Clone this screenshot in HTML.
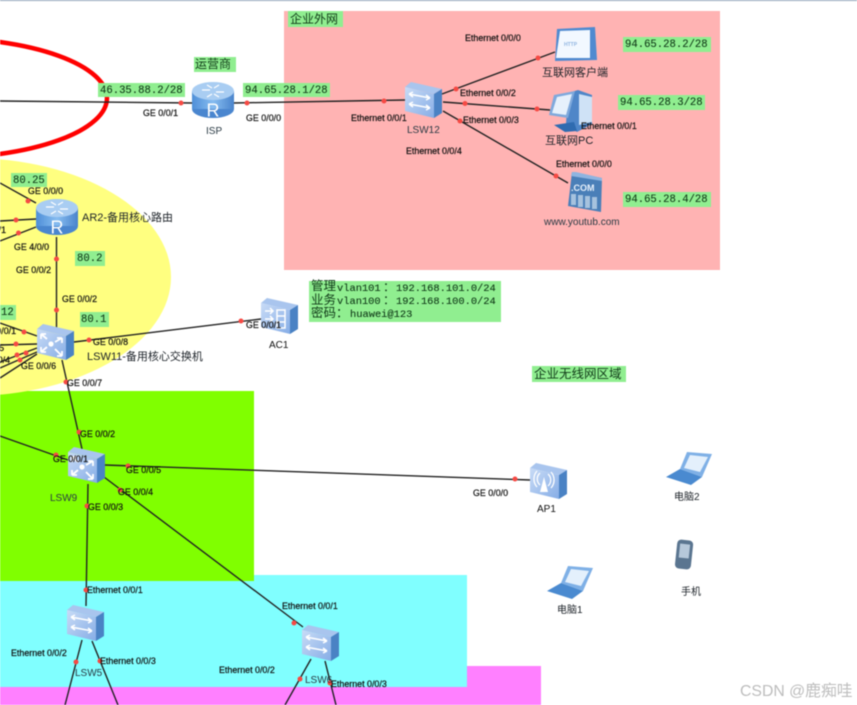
<!DOCTYPE html>
<html><head><meta charset="utf-8"><style>
html,body{margin:0;padding:0;background:#fff;width:857px;height:705px;overflow:hidden}
svg{display:block;filter:blur(.4px)}
text{font-family:"Liberation Sans","Noto Sans CJK SC",sans-serif;fill:#111}
.p{font-size:8.9px;stroke:#111;stroke-width:.2px}
.n{font-size:10px;fill:#2a3a44}
.c{font-size:11px;fill:#1c2228}
.m{font-family:"Liberation Mono","Noto Sans CJK SC",monospace;font-size:10.6px;fill:#103a18;stroke:#103a18;stroke-width:.1px}
.i{font-size:10.4px}
.z{fill:#103a18}
.g{fill:#90ee90}
.l line{stroke:#222;stroke-width:1.4}
.d circle{fill:#f64a44;r:2.5px}
</style></head><body>
<svg width="857" height="705" viewBox="0 0 857 705" xmlns="http://www.w3.org/2000/svg">
<defs>
<linearGradient id="fr" x1="0" y1="0" x2="1" y2="1"><stop offset="0" stop-color="#c8dbf6"/><stop offset="1" stop-color="#86ade6"/></linearGradient>
<linearGradient id="cy" x1="0" y1="0" x2="1" y2="0"><stop offset="0" stop-color="#4f8fd8"/><stop offset=".5" stop-color="#86bcf0"/><stop offset="1" stop-color="#4a84cc"/></linearGradient>
<g id="box"><polygon points="0,5 6,0 37,7 29,12" fill="#a9c5ee"/><polygon points="29,12 37,7 37,31 29,36" fill="#4a82c4"/><polygon points="0,5 29,12 29,36 0,29" fill="url(#fr)"/></g>
<g id="sw"><use href="#box"/><g stroke="#fff" stroke-width="1.5" fill="none"><path d="M4,12 L25,16 M4,12 l4,-2 M4,12 l4,3 M25,16 l-4,-3 M25,16 l-4,2"/><path d="M4,22 L25,26 M25,26 l-4,-3 M25,26 l-4,2 M4,22 l4,-2 M4,22 l4,3"/></g></g>
<g id="core"><use href="#box"/><g stroke="#fff" stroke-width="1.8" fill="none"><path d="M4,10 L10,15 M4,10 h5 M4,10 v5"/><path d="M25,14 L18,18 M25,14 h-5 M25,14 v5"/><path d="M10,23 L4,28 M4,28 h5 M4,28 v-5"/><path d="M18,25 L25,32 M25,32 h-5 M25,32 v-5"/></g><circle cx="14" cy="20" r="2.6" fill="#fff"/></g>
<g id="ac"><use href="#box"/><g stroke="#fff" stroke-width="1.5" fill="none"><path d="M4,13 h8 M9,10 l3,3 -3,3 M4,21 h8 M9,18 l3,3 -3,3"/><rect x="16" y="12" width="8" height="18"/><path d="M16,18 h8 M16,24 h8"/></g></g>
<g id="ap"><use href="#box"/><g stroke="#fff" stroke-width="1.3" fill="none"><path d="M10,10 a8,8 0 0 0 0,12 M18,11 a8,8 0 0 1 0,12 M7,8 a12,12 0 0 0 0,16 M21,9 a12,12 0 0 1 0,16"/></g><path d="M14,14 l-4,15 h8z" fill="#fff"/></g>
<g id="r"><ellipse cx="21" cy="27" rx="21" ry="9" fill="#4a86cf"/><rect x="0" y="9" width="42" height="18" fill="url(#cy)"/><ellipse cx="21" cy="9" rx="21" ry="9" fill="#a9cdf2"/><g stroke="#fff" stroke-width="1.2" fill="none"><path d="M10,8 h8 M32,10 h-8 M15,3 l5,3 M27,15 l-5,-3 M27,3 l-5,3 M15,15 l5,-3"/></g><text x="21" y="34.5" text-anchor="middle" style="font-size:18px;fill:#fff">R</text></g>
<g id="lap"><polygon points="14,17 21,0 46,2 36,25" fill="#7fb0e6"/><polygon points="18,16 24,3 42,5 34,20" fill="#e4f0fc"/><polygon points="0,25 14,17 36,25 25,33" fill="#4a8ad0"/></g>
</defs>

<rect x="0" y="0" width="857" height="705" fill="#fff"/>
<rect x="0" y="0" width="857" height="1" fill="#8fa3b8"/>
<rect x="0" y="666" width="541" height="39" fill="#ff80ff"/>
<rect x="0" y="575" width="467" height="112" fill="#80ffff"/>
<rect x="0" y="391" width="254" height="190" fill="#80ff00"/>
<rect x="284" y="11" width="436" height="259" fill="#ffb3b3"/>
<ellipse cx="-30" cy="277" rx="201" ry="119" fill="#ffff80"/>
<ellipse cx="-60" cy="98" rx="167" ry="60" fill="none" stroke="#f00" stroke-width="4.5"/>

<g class="l">
<line x1="0" y1="101" x2="193" y2="103"/><line x1="233" y1="103" x2="405" y2="100"/>
<line x1="442" y1="94" x2="555" y2="52"/><line x1="443" y1="102" x2="550" y2="110"/><line x1="443" y1="111" x2="568" y2="183"/>
<line x1="0" y1="183" x2="36" y2="203"/><line x1="0" y1="221" x2="36" y2="219"/><line x1="0" y1="241" x2="36" y2="227"/>
<line x1="56.5" y1="237" x2="56.5" y2="328"/>
<line x1="0" y1="323" x2="37" y2="336"/><line x1="0" y1="345" x2="37" y2="344"/><line x1="0" y1="362" x2="37" y2="348"/><line x1="0" y1="368" x2="37" y2="352"/><line x1="0" y1="378" x2="37" y2="354"/>
<line x1="74" y1="342" x2="261" y2="319"/><line x1="62" y1="360" x2="82" y2="449"/>
<line x1="0" y1="436" x2="68" y2="460"/><line x1="105" y1="465" x2="530" y2="480"/>
<line x1="88" y1="484" x2="86" y2="606"/><line x1="104" y1="477" x2="303" y2="627"/>
<line x1="82" y1="640" x2="65" y2="705"/><line x1="92" y1="641" x2="118" y2="705"/>
<line x1="311" y1="659" x2="285" y2="705"/><line x1="325" y1="661" x2="336" y2="705"/>
</g>

<use href="#r" x="192" y="82"/>
<use href="#r" x="36" y="199"/>
<use href="#sw" x="405" y="82"/>
<use href="#core" x="37" y="324"/>
<use href="#core" x="68" y="447"/>
<use href="#sw" x="67" y="605"/>
<use href="#sw" x="302" y="625"/>
<use href="#ac" x="261" y="298"/>
<use href="#ap" x="530" y="463"/>

<!-- HTTP -->
<polygon points="557,29 595,27 597,60 555,61" fill="#4f8ad0"/><polygon points="560,31 590,30 590,58 556,58" fill="#f2f8ff"/>
<text x="564" y="46" style="font-size:5px;font-weight:bold;fill:#8fb4e0">HTTP</text>
<!-- PC -->
<polygon points="568,93 578,90 592,95 592,124 577,132 566,124" fill="#4f86c8"/><polygon points="579,94 592,97 592,122 579,125" fill="#cfe2f6"/>
<polygon points="554,95 575,91 568,118 549,115" fill="#7fa9dc"/><polygon points="557,97 572,94 566,115 552,113" fill="#e6f1fc"/>
<polygon points="554,125 574,122 577,131 565,132" fill="#2f6bb0"/>
<!-- COM -->
<polygon points="572,172 602,178 601,212 568,206" fill="#4a7fb8"/><polygon points="572,172 576,172 602,178 602,181 571,176" fill="#8fb4e0"/>
<text x="571" y="191" style="font-size:9px;font-weight:bold;fill:#e6f0fb">.COM</text>
<g fill="#a6c2de"><rect x="571" y="194" width="5" height="11"/><rect x="578" y="195" width="5" height="12"/><rect x="585" y="196" width="5" height="12"/><rect x="592" y="197" width="5" height="12"/></g>
<!-- laptops and phone -->
<use href="#lap" x="666" y="452"/>
<use href="#lap" x="547" y="566"/>
<rect x="676" y="540" width="16" height="29" rx="4" fill="#5a7590" transform="rotate(6 684 555)"/>
<rect x="679" y="544" width="10" height="14" fill="#b6c8da" transform="rotate(6 684 555)"/>

<g class="d">
<circle cx="181" cy="103"/><circle cx="247" cy="103"/><circle cx="384" cy="101"/>
<circle cx="456" cy="89"/><circle cx="538" cy="58"/><circle cx="465" cy="103.5"/><circle cx="537" cy="109"/><circle cx="460" cy="121"/><circle cx="556" cy="176"/>
<circle cx="28" cy="201"/><circle cx="16" cy="220"/><circle cx="18.5" cy="233"/><circle cx="56.5" cy="259"/><circle cx="56.5" cy="310"/>
<circle cx="24" cy="332"/><circle cx="16" cy="344"/><circle cx="17" cy="355"/><circle cx="26" cy="353"/><circle cx="20" cy="360"/>
<circle cx="89" cy="340"/><circle cx="241" cy="321"/><circle cx="66" cy="382"/><circle cx="79" cy="432"/>
<circle cx="56" cy="455"/><circle cx="128" cy="466"/><circle cx="515" cy="479"/><circle cx="87" cy="506"/><circle cx="120" cy="490"/>
<circle cx="86" cy="590"/><circle cx="294" cy="623"/><circle cx="76" cy="662"/><circle cx="100" cy="661"/><circle cx="300" cy="679"/><circle cx="330" cy="683"/>
</g>

<!-- green labels -->
<rect class="g" x="98" y="83" width="87" height="14"/><text class="m" x="100" y="93">46.35.88.2/28</text>
<rect class="g" x="243" y="83" width="87" height="14"/><text class="m" x="245" y="93">94.65.28.1/28</text>
<rect class="g" x="194" y="57" width="42" height="15"/><text class="z" x="195" y="68" style="font-size:12px">运营商</text>
<rect class="g" x="288" y="11" width="55" height="16"/><text class="z" x="290" y="23" style="font-size:12px">企业外网</text>
<rect class="g" x="623" y="37" width="88" height="15"/><text class="m" x="625" y="47">94.65.28.2/28</text>
<rect class="g" x="618" y="95" width="87" height="15"/><text class="m" x="620" y="105">94.65.28.3/28</text>
<rect class="g" x="623" y="192" width="88" height="15"/><text class="m" x="625" y="202">94.65.28.4/28</text>
<rect class="g" x="11" y="173" width="36" height="14"/><text class="m" x="13" y="183">80.25</text>
<rect class="g" x="75" y="251" width="30" height="15"/><text class="m" x="77" y="261">80.2</text>
<rect class="g" x="80" y="312" width="29" height="15"/><text class="m" x="81" y="322">80.1</text>
<rect class="g" x="0" y="305" width="16" height="15"/><text class="m" x="1" y="315">12</text>
<rect class="g" x="309" y="281" width="192" height="41"/>
<text class="z" x="311" y="290" style="font-size:12.5px">管理</text><text class="m i" x="337" y="291">vlan101</text><text class="z" x="383" y="291" style="font-size:12px">：</text><text class="m i" x="396" y="291">192.168.101.0/24</text>
<text class="z" x="311" y="304" style="font-size:12.5px">业务</text><text class="m i" x="337" y="304">vlan100</text><text class="z" x="383" y="304" style="font-size:12px">：</text><text class="m i" x="396" y="304">192.168.100.0/24</text>
<text class="z" x="311" y="317" style="font-size:12.5px">密码：</text><text class="m i" x="350" y="317">huawei@123</text>
<rect class="g" x="532" y="366" width="94" height="16"/><text class="z" x="534" y="378" style="font-size:12.5px">企业无线网区域</text>

<!-- port labels -->
<g>
<text class="p" x="143" y="116">GE 0/0/1</text><text class="p" x="246" y="121">GE 0/0/0</text>
<text class="p" x="351" y="121">Ethernet 0/0/1</text><text class="p" x="406" y="154">Ethernet 0/0/4</text>
<text class="p" x="465" y="41">Ethernet 0/0/0</text><text class="p" x="460" y="96">Ethernet 0/0/2</text>
<text class="p" x="463" y="123">Ethernet 0/0/3</text><text class="p" x="581" y="129">Ethernet 0/0/1</text>
<text class="p" x="556" y="167">Ethernet 0/0/0</text>
<text class="p" x="28" y="194">GE 0/0/0</text><text class="p" x="14" y="250">GE 4/0/0</text><text class="p" x="16" y="273">GE 0/0/2</text>
<text class="p" x="62" y="302">GE 0/0/2</text><text class="p" x="93" y="345">GE 0/0/8</text><text class="p" x="21" y="369">GE 0/0/6</text>
<text class="p" x="67" y="386">GE 0/0/7</text><text class="p" x="80" y="437">GE 0/0/2</text><text class="p" x="53" y="462">GE 0/0/1</text>
<text class="p" x="126" y="473">GE 0/0/5</text><text class="p" x="118" y="495">GE 0/0/4</text><text class="p" x="88" y="510">GE 0/0/3</text>
<text class="p" x="87" y="593">Ethernet 0/0/1</text><text class="p" x="11" y="656">Ethernet 0/0/2</text><text class="p" x="100" y="664">Ethernet 0/0/3</text>
<text class="p" x="219" y="673">Ethernet 0/0/2</text><text class="p" x="282" y="609">Ethernet 0/0/1</text><text class="p" x="331" y="687">Ethernet 0/0/3</text>
<text class="p" x="246" y="328">GE 0/0/1</text><text class="p" x="473" y="496">GE 0/0/0</text>
<text class="p" x="-29" y="233">GE 0/0/1</text><text class="p" x="-19" y="334">GE 0/0/1</text><text class="p" x="-31" y="351">GE 0/0/5</text><text class="p" x="-25" y="363">GE 0/0/4</text>
</g>

<!-- device names -->
<text class="n" x="206" y="134">ISP</text><text class="n" x="407" y="133">LSW12</text>
<text class="c" x="542" y="76">互联网客户端</text><text class="c" x="545" y="144">互联网PC</text>
<text class="n" x="544" y="225">www.youtub.com</text>
<text class="c" x="82" y="221">AR2-备用核心路由</text>
<text class="c" x="87" y="360">LSW11-备用核心交换机</text>
<text class="n" x="50" y="501">LSW9</text><text class="n" x="75" y="676">LSW5</text><text class="n" x="305" y="683">LSW6</text>
<text class="n" x="269" y="348" style="fill:#111">AC1</text><text class="n" x="537" y="512" style="fill:#111">AP1</text>
<text class="c" x="674" y="500" style="font-size:10px">电脑2</text><text class="c" x="557" y="613" style="font-size:10px">电脑1</text><text class="c" x="681" y="595" style="font-size:10px">手机</text>
<text x="740" y="696" style="font-size:15.8px;fill:#bdbdbd">CSDN @鹿痴哇</text>
</svg>
</body></html>
